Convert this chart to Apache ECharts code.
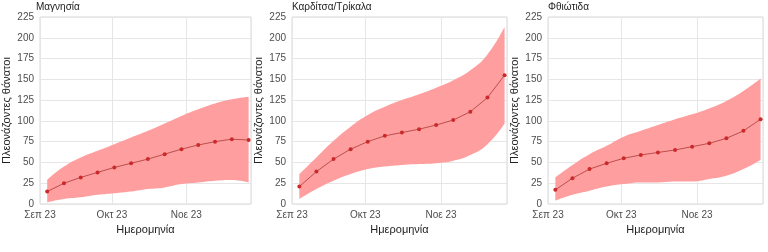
<!DOCTYPE html>
<html><head><meta charset="utf-8">
<script src="https://cdn.jsdelivr.net/npm/echarts@6/dist/echarts.min.js"></script>
<style>html,body{margin:0;padding:0;background:#fff}#c{width:768px;height:252px}</style>
</head><body><div id="c"></div>
<script>
const dates = ['2023-09-04','2023-09-11','2023-09-18','2023-09-25','2023-10-02','2023-10-09','2023-10-16','2023-10-23','2023-10-30','2023-11-06','2023-11-13','2023-11-20','2023-11-27'];
const panelTitles = ['Μαγνησία','Καρδίτσα/Τρίκαλα','Φθιώτιδα'];
const monthNames = ['Ιαν','Φεβ','Μαρ','Απρ','Μαϊ','Ιουν','Ιουλ','Αυγ','Σεπ','Οκτ','Νοε','Δεκ'];
const yTicks = [0,25,50,75,100,125,150,175,200,225];

const magMean  = [15,25,32,38,44,49,54,60,66,71,75,78,77];
const magUpper = [29,45,56,64,72,80,88,97,106,114,121,126,129];
const magLower = [2,6,8,11,13,15,18,20,24,26,28,29,26];

const karMean  = [21,39,54,66,75,82,86,90,95,101,111,128,155];
const karUpper = [36,56,76,93,107,117,125,132,140,149,161,180,213];
const karLower = [6,18,28,36,42,45,47,48,49,52,59,72,97];

const fthMean  = [17,31,42,49,55,59,62,65,69,73,79,88,102];
const fthUpper = [32,47,60,70,81,88,95,102,108,115,124,136,151];
const fthLower = [4,11,16,21,24,26,26,27,27,30,34,42,53];

const panels = [[magMean,magUpper,magLower],[karMean,karUpper,karLower],[fthMean,fthUpper,fthLower]];
const lefts = [36,292,548];
const W = 215;
const font = 'Liberation Sans';

const grid=[], xAxis=[], yAxis=[], series=[], title=[];
panels.forEach((p,i)=>{
  grid.push({left:lefts[i], width:W, top:17, bottom:48, show:true, borderColor:'#d9d9d9', borderWidth:1, backgroundColor:'#fff'});
  title.push({text:panelTitles[i], left:lefts[i], top:2, padding:0, textStyle:{fontFamily:font,fontSize:10,fontWeight:'normal',color:'#222'}});
  xAxis.push({type:'time', gridIndex:i, min:'2023-09-01', max:'2023-11-28', minInterval:28*86400000,
    name:'Ημερομηνία', nameLocation:'middle', nameGap:17, nameTextStyle:{fontFamily:font,fontSize:11,color:'#222'},
    axisLine:{show:false}, axisTick:{show:false},
    splitLine:{show:true,lineStyle:{color:'#e6e6e6',width:1}},
    axisLabel:{fontFamily:font,fontSize:10,color:'#4d4d4d',margin:6,showMinLabel:true,
      formatter:v=>{const d=new Date(v);return monthNames[d.getMonth()]+' '+String(d.getFullYear()).slice(2);}}});
  yAxis.push({type:'value', gridIndex:i, min:yTicks[0], max:yTicks[yTicks.length-1], interval:25,
    name:'Πλεονάζοντες θάνατοι', nameLocation:'middle', nameGap:28, nameTextStyle:{fontFamily:font,fontSize:11,color:'#222'},
    axisLine:{show:false}, axisTick:{show:false},
    splitLine:{lineStyle:{color:'#e6e6e6',width:1}},
    axisLabel:{fontFamily:font,fontSize:10,color:'#4d4d4d',margin:6}});
  const [mean,up,lo]=p;
  series.push({type:'line', xAxisIndex:i, yAxisIndex:i, stack:'band'+i, symbol:'none', smooth:0.5,
    lineStyle:{opacity:0}, data:dates.map((d,k)=>[d,lo[k]]), silent:true});
  series.push({type:'line', xAxisIndex:i, yAxisIndex:i, stack:'band'+i, symbol:'none', smooth:0.5,
    lineStyle:{opacity:0}, areaStyle:{color:'#ff9e9e',opacity:1}, data:dates.map((d,k)=>[d,up[k]-lo[k]]), silent:true});
  series.push({type:'line', xAxisIndex:i, yAxisIndex:i, symbol:'circle', symbolSize:4,
    itemStyle:{color:'#cc2a2a'}, lineStyle:{color:'#a83a3a',width:0.8}, data:dates.map((d,k)=>[d,mean[k]])});
});

const chart = echarts.init(document.getElementById('c'),null,{renderer:'canvas'});
chart.setOption({animation:false, title, grid, xAxis, yAxis, series});
</script></body></html>
